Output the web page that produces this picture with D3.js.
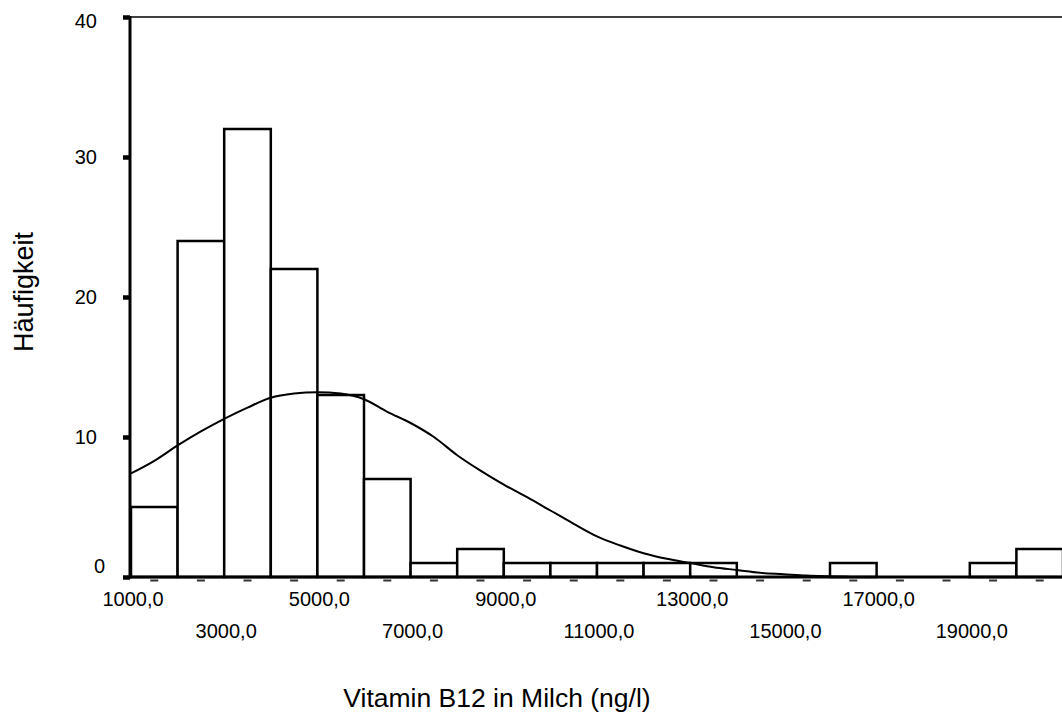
<!DOCTYPE html>
<html>
<head>
<meta charset="utf-8">
<script src="https://cdn.jsdelivr.net/npm/d3@7"></script>
<style>
  html, body { margin: 0; padding: 0; background: #fff; }
  svg { display: block; font-family: "Liberation Sans", Arial, Helvetica, sans-serif; }
</style>
</head>
<body>
<svg id="chart" width="1062" height="717"></svg>
<script>
// ---- data ----
const binStarts = [1000, 2000, 3000, 4000, 5000, 6000, 7000, 8000, 9000, 10000,
                   11000, 12000, 13000, 14000, 15000, 16000, 17000, 18000, 19000, 20000];
const binWidth = 1000;
const counts = [5, 24, 32, 22, 13, 7, 1, 2, 1, 1, 1, 1, 1, 0, 0, 1, 0, 0, 1, 2];

const curveX = [1000, 1500, 2000, 2500, 3000, 3500, 4000, 4500, 5000, 5500, 6000, 6500,
                7000, 7500, 8000, 8500, 9000, 9500, 10000, 10500, 11000, 11500, 12000,
                12500, 13000, 13500, 14000, 14500, 15000, 15500, 16000, 16400];
const curveY = [7.4, 8.3, 9.4, 10.4, 11.3, 12.1, 12.8, 13.1, 13.2, 13.1, 12.7, 11.8,
                11.0, 10.0, 8.7, 7.6, 6.6, 5.7, 4.75, 3.8, 2.9, 2.25, 1.7,
                1.3, 1.0, 0.7, 0.5, 0.3, 0.2, 0.1, 0.05, 0.02];

const xLabelValues = [1000, 3000, 5000, 7000, 9000, 11000, 13000, 15000, 17000, 19000];
const yTicks = [0, 10, 20, 30, 40];
const xTitle = "Vitamin B12 in Milch (ng/l)";
const yTitle = "Häufigkeit";

// ---- scales ----
const svg = d3.select("#chart");
const x = d3.scaleLinear().domain([1000, 21000]).range([131, 1063]);
const y = d3.scaleLinear().domain([0, 40]).range([577, 17]);

const fmt = d3.formatLocale({decimal: ",", thousands: "", grouping: [3], currency: ["", ""]}).format(".1f");

// top frame line
svg.append("line")
  .attr("x1", x(1000) - 1).attr("x2", 1062)
  .attr("y1", y(40)).attr("y2", y(40))
  .attr("stroke", "#000").attr("stroke-width", 1.5);

// bars
svg.append("g").selectAll("rect")
  .data(binStarts.map((s, i) => ({s, c: counts[i]})).filter(d => d.c > 0))
  .join("rect")
  .attr("x", d => x(d.s))
  .attr("width", d => x(d.s + binWidth) - x(d.s))
  .attr("y", d => y(d.c))
  .attr("height", d => y(0) - y(d.c))
  .attr("fill", "#fff")
  .attr("stroke", "#000")
  .attr("stroke-width", 2.5);

// normal curve
const line = d3.line()
  .x((d, i) => x(curveX[i]))
  .y(d => y(d))
  .curve(d3.curveMonotoneX);
svg.append("path")
  .attr("d", line(curveY))
  .attr("fill", "none")
  .attr("stroke", "#000")
  .attr("stroke-width", 2);

// x axis (dashes at bar centres, labels at alternate rows)
const xAxis = d3.axisBottom(x).tickValues(xLabelValues).tickSize(0).tickFormat(fmt);
const gx = svg.append("g").attr("transform", `translate(0,${y(0)})`).call(xAxis);
gx.select(".domain").remove();
gx.selectAll("text")
  .attr("font-size", 20)
  .attr("font-family", "Liberation Sans, Arial, sans-serif")
  .attr("fill", "#000")
  .attr("dy", null)
  .attr("y", (d, i) => i % 2 === 0 ? 29 : 61)
  .attr("dx", 1.5);

svg.append("g").selectAll("line")
  .data(binStarts)
  .join("line")
  .attr("x1", d => x(d + binWidth / 2) - 4)
  .attr("x2", d => x(d + binWidth / 2) + 4)
  .attr("y1", y(0) + 3.5).attr("y2", y(0) + 3.5)
  .attr("stroke", "#333").attr("stroke-width", 2);

svg.append("line")
  .attr("x1", x(1000) - 1).attr("x2", 1062)
  .attr("y1", y(0)).attr("y2", y(0))
  .attr("stroke", "#000").attr("stroke-width", 3);

// y axis
const yAxis = d3.axisLeft(y).tickValues(yTicks).tickSize(7).tickPadding(26).tickFormat(d3.format("d"));
const gy = svg.append("g").attr("transform", `translate(${x(1000) - 1},0)`).call(yAxis);
gy.select(".domain").remove();
gy.selectAll(".tick line").attr("stroke", "#000").attr("stroke-width", 4.5);
gy.selectAll("text")
  .attr("font-size", 20)
  .attr("font-family", "Liberation Sans, Arial, sans-serif")
  .attr("fill", "#000");
gy.selectAll(".tick").filter(d => d === 0).select("text")
  .attr("dx", 8).attr("dy", "-0.25em");
gy.selectAll(".tick").filter(d => d === 40).select("text")
  .attr("dy", "0.52em");

svg.append("line")
  .attr("x1", x(1000) - 1).attr("x2", x(1000) - 1)
  .attr("y1", y(40) - 1).attr("y2", y(0) + 1.5)
  .attr("stroke", "#000").attr("stroke-width", 3);

// titles
svg.append("text")
  .attr("x", 497).attr("y", 707)
  .attr("text-anchor", "middle")
  .attr("font-size", 26.5)
  .text(xTitle);

svg.append("text")
  .attr("transform", "translate(33,292) rotate(-90)")
  .attr("text-anchor", "middle")
  .attr("font-size", 27)
  .text(yTitle);
</script>
</body>
</html>
